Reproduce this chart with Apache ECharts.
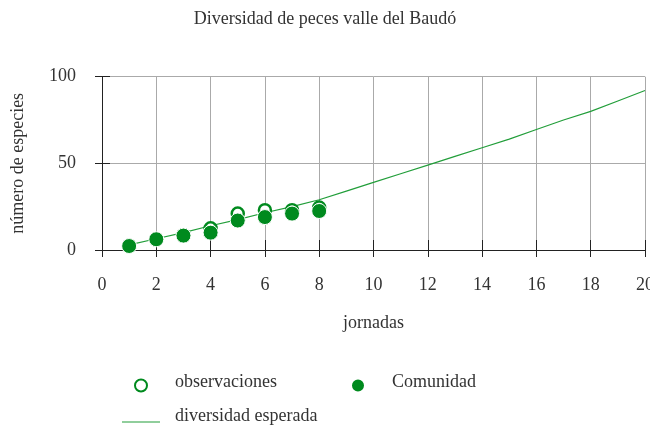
<!DOCTYPE html>
<html>
<head>
<meta charset="utf-8">
<script src="https://cdn.jsdelivr.net/npm/echarts@6/dist/echarts.min.js"></script>
<style>html,body{margin:0;padding:0;background:#fff}#c{width:650px;height:429px}</style>
</head>
<body>
<div id="c"></div>
<script>
var jornadas = [1, 2, 3, 4, 5, 6, 7, 8];
var observaciones = [2.5, 6, 8.5, 12.5, 21, 23, 23, 24.5];
var comunidad = [2.3, 6.2, 8.3, 10, 17, 19, 21, 22.5];
var esperadaX = [1, 2, 3, 4, 5, 6, 7, 8, 9, 10, 11, 12, 13, 14, 15, 16, 17, 18, 19, 20];
var esperadaY = [3, 6.5, 10, 14, 17.5, 21.5, 25, 29, 34, 39, 44, 49, 54, 59, 64, 69.5, 75, 80, 86, 92];
var xTicks = [0, 2, 4, 6, 8, 10, 12, 14, 16, 18, 20];
var yTicks = [0, 50, 100];

var FONT = 'Liberation Serif, Times New Roman, serif';
var FS = 18;
var chart = echarts.init(document.getElementById('c'), null, {renderer: 'canvas'});

function zip(a, b) { return a.map(function (v, i) { return [v, b[i]]; }); }
function legendText(pb, pl) {
  return {fontFamily: FONT, fontSize: FS, color: '#333',
    rich: {a: {fontFamily: FONT, fontSize: FS, color: '#333', padding: [0, 0, pb, pl]}}};
}

var GREEN = '#008a1e';
var option = {
  animation: false,
  backgroundColor: '#fff',
  textStyle: {fontFamily: FONT},
  title: {
    text: 'Diversidad de peces valle del Baudó',
    left: 'center', top: 5,
    textStyle: {fontFamily: FONT, fontSize: FS, fontWeight: 'normal', color: '#333'}
  },
  grid: {left: 102, right: 5, top: 76.7, height: 173.3, containLabel: false, outerBoundsMode: 'none'},
  legend: [{
    data: ['observaciones'],
    left: 134, top: 373, itemWidth: 20, itemHeight: 12, padding: 0,
    formatter: '{a|{name}}', textStyle: legendText(7, 19)
  }, {
    data: ['Comunidad'],
    left: 350, top: 373, itemWidth: 20, itemHeight: 14, padding: 0,
    formatter: '{a|{name}}', textStyle: legendText(7, 19)
  }, {
    data: [{name: 'diversidad esperada', icon: 'rect'}],
    left: 122, top: 407, itemWidth: 38, itemHeight: 1, padding: 0,
    formatter: '{a|{name}}', textStyle: legendText(12, 10)
  }],
  xAxis: [{
    type: 'value', min: 0, max: 20, interval: 2,
    name: 'jornadas', nameLocation: 'middle', nameGap: 64,
    nameTextStyle: {fontFamily: FONT, fontSize: FS, color: '#333'},
    axisLine: {show: true, lineStyle: {color: '#222', width: 1}},
    axisTick: {show: true, length: 7, lineStyle: {color: '#222'}},
    axisLabel: {fontFamily: FONT, fontSize: FS, color: '#333', margin: 26},
    splitLine: {show: true, lineStyle: {color: '#aaa', width: 1}}
  }, {
    type: 'value', min: 0, max: 20, interval: 2, position: 'bottom',
    axisLine: {show: false},
    axisTick: {show: true, inside: true, length: 10, lineStyle: {color: '#222'}},
    axisLabel: {show: false}, splitLine: {show: false}
  }],
  yAxis: [{
    type: 'value', min: 0, max: 100, interval: 50,
    name: 'número de especies', nameLocation: 'middle', nameGap: 75,
    nameTextStyle: {fontFamily: FONT, fontSize: FS, color: '#333'},
    axisLine: {show: true, lineStyle: {color: '#222', width: 1}},
    axisTick: {show: true, length: 7, lineStyle: {color: '#222'}},
    axisLabel: {fontFamily: FONT, fontSize: FS, color: '#333', margin: 26},
    splitLine: {show: true, lineStyle: {color: '#aaa', width: 1}}
  }, {
    type: 'value', min: 0, max: 100, interval: 50, position: 'left',
    axisLine: {show: false},
    axisTick: {show: true, inside: true, length: 8, lineStyle: {color: '#222'}},
    axisLabel: {show: false}, splitLine: {show: false}
  }],
  series: [{
    name: 'diversidad esperada', type: 'line', data: zip(esperadaX, esperadaY),
    showSymbol: false, symbol: 'none', smooth: false, z: 2,
    lineStyle: {color: '#229e3a', width: 1.2},
    itemStyle: {color: '#229e3a'}
  }, {
    name: 'observaciones', type: 'scatter', data: zip(jornadas, observaciones),
    symbol: 'circle', symbolSize: 12, z: 3,
    itemStyle: {color: '#fff', borderColor: GREEN, borderWidth: 2.5, opacity: 1}
  }, {
    name: 'Comunidad', type: 'scatter', data: zip(jornadas, comunidad),
    symbol: 'circle', symbolSize: 15, z: 4,
    itemStyle: {color: GREEN, borderColor: '#fff', borderWidth: 1, opacity: 1}
  }]
};
chart.setOption(option);
</script>
</body>
</html>
